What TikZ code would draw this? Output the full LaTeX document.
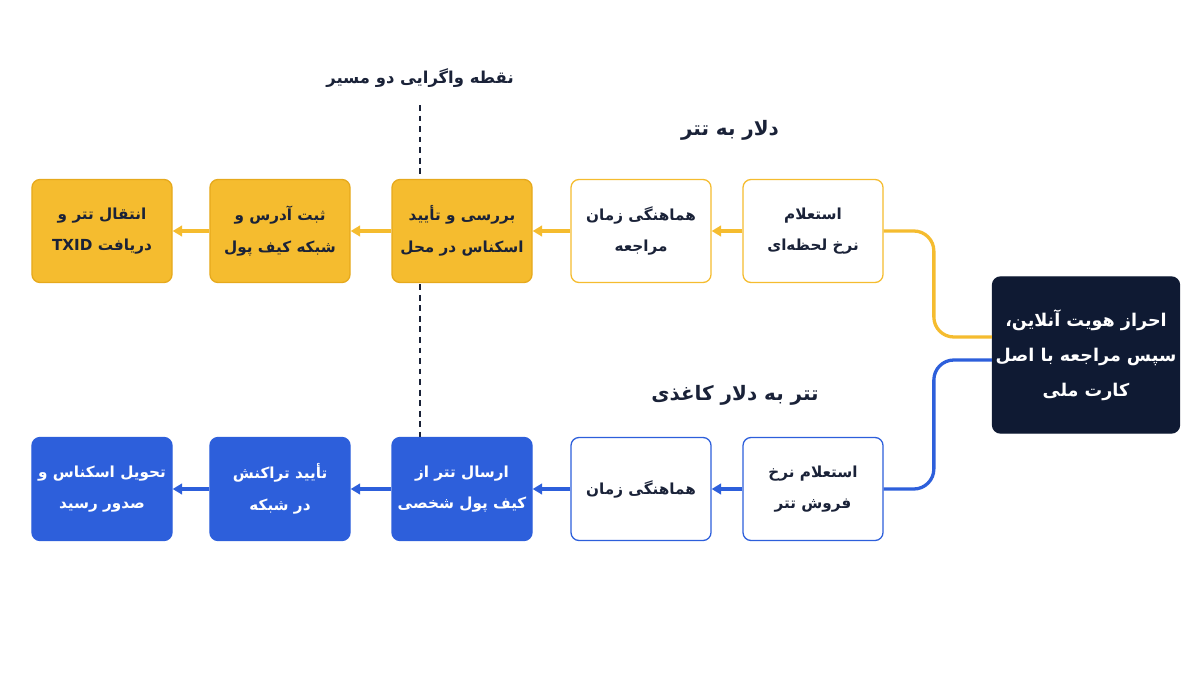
\documentclass[tikz,border=0pt]{standalone}
\usepackage{fontspec}
\usetikzlibrary{arrows.meta}
\newfontfamily\farsi[Script=Arabic]{DejaVu Sans}
\TeXXeTstate=1
\newcommand{\fa}[1]{\beginR #1\endR}
\newcommand{\la}[1]{\beginL #1\endL}
\definecolor{ylw}{HTML}{F5BC2F}
\definecolor{ylwd}{HTML}{E6A91C}
\definecolor{blu}{HTML}{2D5FDB}
\definecolor{navy}{HTML}{0F1A33}
\definecolor{ink}{HTML}{1A2238}
\tikzset{
  box/.style={rounded corners=0.24cm, minimum width=4.2cm, minimum height=3.09cm,
    inner xsep=1pt, align=center, line width=1.1pt, font=\farsi\bfseries\fontsize{13}{27}\selectfont, text=ink},
  yfull/.style={box, fill=ylw, draw=ylwd},
  yline/.style={box, fill=white, draw=ylw},
  bfull/.style={box, fill=blu, draw=blu, text=white},
  bline/.style={box, fill=white, draw=blu},
  ycon/.style={draw=ylw, line width=2.8pt, -{Triangle[length=8pt,width=9pt]}},
  bcon/.style={draw=blu, line width=2.8pt, -{Triangle[length=8pt,width=9pt]}},
  head/.style={font=\farsi\bfseries\fontsize{17}{20}\selectfont, text=ink}
}
\begin{document}
\begin{tikzpicture}[x=0.03cm,y=-0.03cm]
\useasboundingbox (0,0) rectangle (1200,675);
% divergence marker
\coordinate (dtop) at (420,105);
\coordinate (dbot) at (420,438);
\draw[ink, line width=1.2pt, dash pattern=on 5pt off 4pt] (dtop) -- (dbot);
\node[head, font=\farsi\bfseries\fontsize{14}{16}\selectfont] (split) at (420,78) {\fa{نقطه واگرایی دو مسیر}};
\node[head] (thead) at (730,130) {\fa{دلار به تتر}};
\node[head] (bhead) at (735,395) {\fa{تتر به دلار کاغذی}};

% top row
\node[yfull] (t1) at (102,231) {\fa{انتقال تتر و}\\\fa{دریافت \la{TXID}}};
\node[yfull] (t2) at (280,231) {\fa{ثبت آدرس و}\\\fa{شبکه کیف پول}};
\node[yfull] (t3) at (462,231) {\fa{بررسی و تأیید}\\\fa{اسکناس در محل}};
\node[yline] (t4) at (641,231) {\fa{هماهنگی زمان}\\\fa{مراجعه}};
\node[yline] (t5) at (813,231) {\fa{استعلام}\\\fa{نرخ لحظه‌ای}};

% bottom row
\node[bfull] (b1) at (102,489) {\fa{تحویل اسکناس و}\\\fa{صدور رسید}};
\node[bfull] (b2) at (280,489) {\fa{تأیید تراکنش}\\\fa{در شبکه}};
\node[bfull] (b3) at (462,489) {\fa{ارسال تتر از}\\\fa{کیف پول شخصی}};
\node[bline] (b4) at (641,489) {\fa{هماهنگی زمان}};
\node[bline] (b5) at (813,489) {\fa{استعلام نرخ}\\\fa{فروش تتر}};

% start
\node[box, fill=navy, draw=navy, text=white, minimum width=5.61cm, minimum height=4.68cm,
  font=\farsi\bfseries\fontsize{15}{30}\selectfont] (id) at (1086,355)
  {\fa{احراز هویت آنلاین،}\\\fa{سپس مراجعه با اصل}\\\fa{کارت ملی}};

\draw[ycon, -, rounded corners=0.6cm] ([yshift=0.54cm]id.west) -- ++(-58,0) |- (t5.east);
\draw[bcon, -, rounded corners=0.6cm] ([yshift=-0.15cm]id.west) -- ++(-58,0) |- (b5.east);

\draw[ycon] (t5) -- (t4);
\draw[ycon] (t4) -- (t3);
\draw[ycon] (t3) -- (t2);
\draw[ycon] (t2) -- (t1);
\draw[bcon] (b5) -- (b4);
\draw[bcon] (b4) -- (b3);
\draw[bcon] (b3) -- (b2);
\draw[bcon] (b2) -- (b1);
\end{tikzpicture}
\end{document}
